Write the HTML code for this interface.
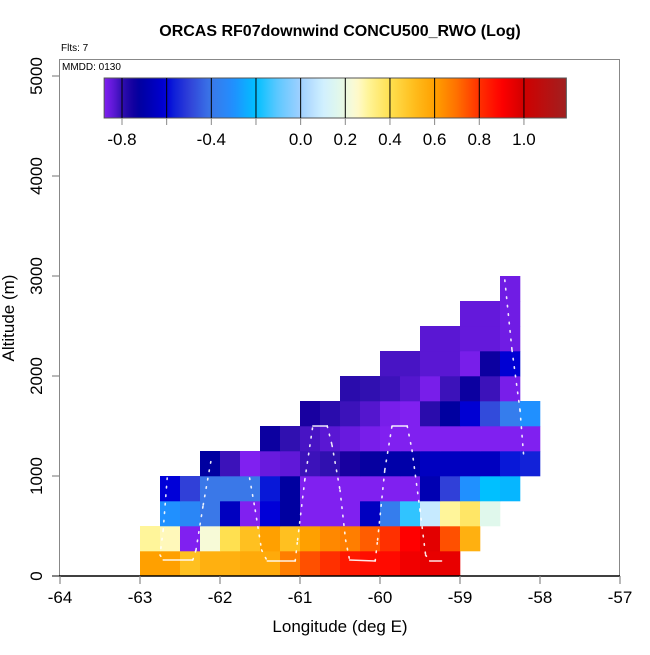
<!DOCTYPE html>
<html><head><meta charset="utf-8"><style>
body{margin:0;background:#fff;}
svg text{font-family:"Liberation Sans",sans-serif;}
</style></head><body>
<svg id="chart" width="650" height="650" viewBox="0 0 650 650" xmlns="http://www.w3.org/2000/svg">
<rect width="650" height="650" fill="#fff"/>
<text x="340" y="36" text-anchor="middle" font-size="16" font-weight="bold">ORCAS RF07downwind CONCU500_RWO (Log)</text>
<text x="61" y="51" font-size="10">Flts: 7</text>
<g id="cells"></g>
<g id="track"></g>
<rect x="59.5" y="59.5" width="560" height="516.5" fill="none" stroke="#888" stroke-width="1"/>
<text x="62" y="70" font-size="10">MMDD: 0130</text>
<g id="colorbar"></g>
<g id="axes"></g>
<text x="340" y="632" text-anchor="middle" font-size="17">Longitude (deg E)</text>
<text transform="translate(14,318) rotate(-90)" text-anchor="middle" font-size="17">Altitude (m)</text>
</svg>
<script>
const xTicks=[-64,-63,-62,-61,-60,-59,-58,-57];
const yTicks=[0,1000,2000,3000,4000,5000];
const cbTicks=[-0.8,-0.6,-0.4,-0.2,0,0.2,0.4,0.6,0.8,1.0];
const cbLabels=["-0.8","","-0.4","","0.0","0.2","0.4","0.6","0.8","1.0"];
const lonStart=-63, lonStep=0.25, altStep=250;
const rowStarts=[0,0,1,1,3,6,8,10,12,14,16,18];
const row0=[0.6,0.6,0.5,0.55,0.55,0.57,0.57,0.67,0.75,0.8,0.85,0.87,0.88,0.93,0.95,0.95];
const row1=[0.3,0.27,-0.88,0.23,0.4,0.5,0.6,0.5,0.6,0.65,0.67,0.73,0.8,0.9,0.96,0.75,0.55];
const row2=[-0.3,-0.34,-0.4,-0.65,-0.88,-0.6,-0.72,-0.88,-0.88,-0.88,-0.65,-0.38,-0.15,0.08,0.3,0.37,0.17];
const row3=[-0.6,-0.5,-0.4,-0.4,-0.4,-0.58,-0.72,-0.88,-0.88,-0.88,-0.88,-0.88,-0.88,-0.68,-0.5,-0.3,-0.2,-0.22];
const row4=[-0.72,-0.81,-0.88,-0.85,-0.84,-0.81,-0.8,-0.76,-0.73,-0.7,-0.7,-0.65,-0.65,-0.65,-0.65,-0.58,-0.56];
const row5=[-0.74,-0.8,-0.82,-0.835,-0.85,-0.87,-0.88,-0.88,-0.88,-0.88,-0.88,-0.88,-0.88,-0.88];
const row6=[-0.76,-0.79,-0.81,-0.83,-0.87,-0.88,-0.79,-0.72,-0.61,-0.48,-0.38,-0.3];
const row7=[-0.79,-0.8,-0.81,-0.83,-0.87,-0.81,-0.74,-0.81,-0.87];
const row8=[-0.82,-0.82,-0.835,-0.835,-0.87,-0.74,-0.61];
const row9=[-0.835,-0.835,-0.845,-0.845,-0.86];
const row10=[-0.845,-0.845,-0.86];
const row11=[-0.86];
const rows=[row0,row1,row2,row3,row4,row5,row6,row7,row8,row9,row10,row11];
// flight track segments (null = break)
const trackLon=[-62.66,-62.71,-62.75,-62.71,-62.34,-62.3,-62.21,-62.1,null,
 -61.63,-61.56,-61.48,-61.41,-61.06,-61.03,-60.94,-60.84,-60.66,-60.6,-60.5,-60.43,-60.38,-60.06,-60.03,-59.94,-59.85,-59.66,-59.6,-59.5,-59.43,-59.38,-59.23,null,
 -58.44,-58.35,-58.25,-58.2];
const trackAlt=[980,460,210,160,160,260,710,1210,null,
 980,660,260,150,150,360,960,1500,1500,1310,860,360,160,150,360,1060,1500,1500,1260,660,210,150,150,null,
 2960,2260,1660,1160];
const cbStops=[[-0.88,"#8020f0"],[-0.84,"#6018d8"],[-0.8,"#3010b0"],[-0.76,"#1800a0"],[-0.72,"#0000a0"],[-0.65,"#0000c0"],[-0.6,"#0000d8"],[-0.58,"#0818d8"],[-0.5,"#3040d8"],[-0.4,"#3a78e8"],[-0.3,"#2090ff"],[-0.2,"#00c0ff"],[-0.1,"#60c8ff"],[0,"#a0d0ff"],[0.1,"#d0f0ff"],[0.17,"#e0f8ec"],[0.25,"#fffad0"],[0.3,"#fff59a"],[0.4,"#ffe050"],[0.5,"#ffc020"],[0.6,"#ffa000"],[0.7,"#ff7000"],[0.8,"#ff3000"],[0.9,"#ff0000"],[1.0,"#d00000"],[1.19,"#a02020"]];
const NS="http://www.w3.org/2000/svg";
function xScale(lon){return 60+80*(lon+64);}
function yScale(alt){return 576-alt*0.1;}
function cbX(v){return 122+(v+0.8)*223.3;}
function hex(c){return [1,3,5].map(i=>parseInt(c.substr(i,2),16));}
function color(v){
  if(v<=cbStops[0][0])return cbStops[0][1];
  for(let i=1;i<cbStops.length;i++){
    if(v<=cbStops[i][0]){
      const a=cbStops[i-1],b=cbStops[i],t=(v-a[0])/(b[0]-a[0]);
      const ca=hex(a[1]),cb=hex(b[1]);
      return "rgb("+ca.map((x,k)=>Math.round(x+(cb[k]-x)*t)).join(",")+")";
    }
  }
  return cbStops[cbStops.length-1][1];
}
function mk(tag,attrs,parent){const e=document.createElementNS(NS,tag);for(const k in attrs)e.setAttribute(k,attrs[k]);parent.appendChild(e);return e;}
const cells=document.getElementById('cells');
rows.forEach((row,r)=>{
  row.forEach((v,i)=>{
    const lon=lonStart+(rowStarts[r]+i)*lonStep;
    const x0=xScale(lon),x1=xScale(lon+lonStep),y0=yScale((r+1)*altStep),y1=yScale(r*altStep);
    const el=mk('rect',{x:x0,y:y0,width:x1-x0+0.3,height:y1-y0+0.3,fill:color(v)},cells);
    
    
  });
});
const track=document.getElementById('track');
for(let i=1;i<trackLon.length;i++){
  if(trackLon[i]===null||trackLon[i-1]===null)continue;
  const flat=Math.abs(trackAlt[i]-trackAlt[i-1])<=10;
  const seg=mk('line',{x1:xScale(trackLon[i-1]),y1:yScale(trackAlt[i-1]),x2:xScale(trackLon[i]),y2:yScale(trackAlt[i]),stroke:"#fff",'stroke-width':flat?1.4:1.6,'stroke-dasharray':flat?"none":"1.5 7",'stroke-linecap':"round",opacity:0.9},track);
  
  
}
// colorbar
const cb=document.getElementById('colorbar');
const defs=mk('defs',{},cb);
const g=mk('linearGradient',{id:'cbg',x1:0,x2:1,y1:0,y2:0},defs);
const vmin=-0.88,vmax=1.19;
for(let k=0;k<=80;k++){const v=vmin+(vmax-vmin)*k/80;mk('stop',{offset:(k/80),'stop-color':color(v)},g);}
const bar=mk('rect',{x:cbX(vmin),y:78,width:cbX(vmax)-cbX(vmin),height:40,fill:"url(#cbg)",stroke:"#555",'stroke-width':1},cb);


cbTicks.forEach((v,i)=>{
  const x=cbX(v);
  const l=mk('line',{x1:x,x2:x,y1:78,y2:118,stroke:"#000",'stroke-width':1},cb);
  
  
  const t=mk('line',{x1:x,x2:x,y1:118,y2:125,stroke:"#888",'stroke-width':1},cb);
  
  
  if(cbLabels[i]){
    const tx=mk('text',{x:x,y:145,'text-anchor':"middle",'font-size':17},cb);
    tx.textContent=cbLabels[i];
    
    
  }
});
// axes
const ax=document.getElementById('axes');
const xl=mk('line',{x1:52,x2:620,y1:576,y2:576,stroke:"#000",'stroke-width':1.5},ax);


xTicks.forEach(v=>{
  const x=xScale(v);
  const t=mk('line',{x1:x,x2:x,y1:576,y2:584,stroke:"#888",'stroke-width':1.2},ax);
  
  
  const tx=mk('text',{x:x,y:603,'text-anchor':"middle",'font-size':17},ax);
  tx.textContent=String(v);
  
  
});
yTicks.forEach(v=>{
  const y=yScale(v);
  const t=mk('line',{x1:52,x2:59,y1:y,y2:y,stroke:"#888",'stroke-width':1.2},ax);
  
  
  const tx=mk('text',{transform:"translate(42,"+y+") rotate(-90)",'text-anchor':"middle",'font-size':17},ax);
  tx.textContent=String(v);
  
  
});
</script>
</body></html>
